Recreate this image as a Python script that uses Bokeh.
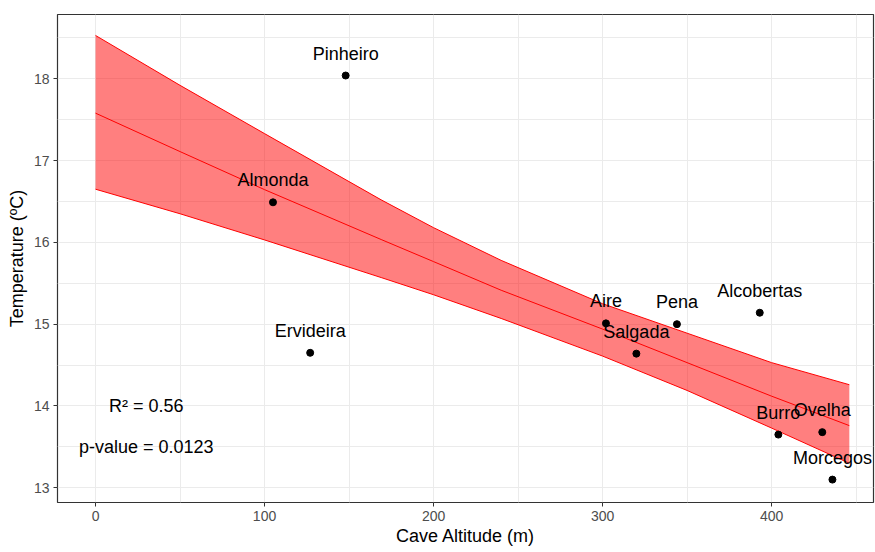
from bokeh.plotting import figure
from bokeh.models import Range1d, FixedTicker, ColumnDataSource
from bokeh.core.properties import value
from bokeh.embed import file_html
from bokeh.resources import INLINE

# ---- data ----
caves = ["Pinheiro", "Almonda", "Ervideira", "Aire", "Salgada", "Pena",
         "Alcobertas", "Burro", "Ovelha", "Morcegos"]
altitude = [148, 105, 127, 302, 320, 344, 393, 404, 430, 436]
temperature = [18.04, 16.49, 14.65, 15.01, 14.64, 15.00, 15.14, 13.65, 13.68, 13.10]

# regression line and confidence band
fit_x = [0, 50, 100, 169, 200, 240, 300, 350, 400, 446]
fit_y = [17.58, 17.11, 16.645, 16.035, 15.765, 15.415, 14.94, 14.53, 14.12, 13.76]
ci_upper = [18.53, 17.92, 17.33, 16.52, 16.18, 15.78, 15.25, 14.89, 14.53, 14.26]
ci_lower = [16.65, 16.35, 16.03, 15.57, 15.36, 15.07, 14.61, 14.19, 13.73, 13.30]

stats_text = ["R² = 0.56", "p-value = 0.0123"]
stats_x = [30, 30]
stats_y = [14.0, 13.5]

x_ticks = [0, 100, 200, 300, 400]
x_minor = [50, 150, 250, 350, 450]
y_ticks = [13, 14, 15, 16, 17, 18]
y_minor = [13.5, 14.5, 15.5, 16.5, 17.5, 18.5]

FONT = "Liberation Sans"

p = figure(width=875, height=552, output_backend="svg", toolbar_location=None,
           x_range=Range1d(-22.5, 460.3), y_range=Range1d(12.82, 18.786),
           min_border_left=57, min_border_right=2, min_border_top=14,
           min_border_bottom=50)
p.background_fill_color = "white"
p.border_fill_color = "white"
p.outline_line_color = "#333333"
p.outline_line_width = 1.2

band = ColumnDataSource(dict(x=fit_x, fit=fit_y, lo=ci_lower, hi=ci_upper))
p.varea(x="x", y1="lo", y2="hi", source=band, fill_color="red", fill_alpha=0.5)
p.line(x="x", y="hi", source=band, line_color="red", line_width=1)
p.line(x="x", y="lo", source=band, line_color="red", line_width=1)
p.line(x="x", y="fit", source=band, line_color="red", line_width=1)

pts = ColumnDataSource(dict(x=altitude, y=temperature, name=caves))
p.scatter(x="x", y="y", source=pts, size=7, fill_color="black", line_color="black")
p.text(x="x", y="y", text="name", source=pts, text_align="center",
       text_baseline="middle", y_offset=-22, text_color="black",
       text_font=value(FONT), text_font_size="18px")

st = ColumnDataSource(dict(x=stats_x, y=stats_y, t=stats_text))
p.text(x="x", y="y", text="t", source=st, text_align="center",
       text_baseline="middle", text_color="black",
       text_font=value(FONT), text_font_size="18px")

p.xaxis.ticker = FixedTicker(ticks=x_ticks, minor_ticks=x_minor)
p.yaxis.ticker = FixedTicker(ticks=y_ticks, minor_ticks=y_minor)

for ax in (p.xaxis[0], p.yaxis[0]):
    ax.axis_line_color = None
    ax.major_tick_line_color = "#333333"
    ax.major_tick_in = 0
    ax.major_tick_out = 4
    ax.minor_tick_line_color = None
    ax.major_label_text_font = FONT
    ax.major_label_text_font_size = "14px"
    ax.major_label_text_color = "#4D4D4D"
    ax.axis_label_text_font = FONT
    ax.axis_label_text_font_size = "18px"
    ax.axis_label_text_font_style = "normal"
    ax.axis_label_text_color = "black"
    ax.major_label_standoff = 4

p.xaxis.axis_label = "Cave Altitude (m)"
p.yaxis.axis_label = "Temperature (ºC)"
p.xaxis.axis_label_standoff = 2
p.yaxis.axis_label_standoff = 4

for g in (p.xgrid[0], p.ygrid[0]):
    g.grid_line_color = "#EBEBEB"
    g.grid_line_width = 1
    g.minor_grid_line_color = "#EBEBEB"
    g.minor_grid_line_width = 1

open("out.html", "w").write(file_html(p, INLINE))
